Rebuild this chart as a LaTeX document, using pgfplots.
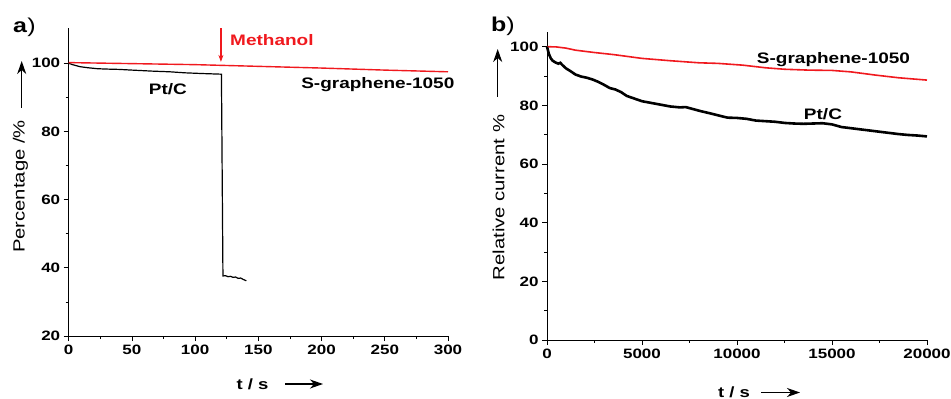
\documentclass[border=0pt]{standalone}
\usepackage{fontspec}
\setmainfont{Liberation Sans}[FakeStretch=1.25]
\usepackage{pgfplots}
\pgfplotsset{compat=1.18}
\usetikzlibrary{arrows.meta}
\definecolor{myred}{RGB}{240,25,30}
\tikzset{ann/.style={font=\bfseries\fontsize{15.2}{16}\selectfont},
  larr/.style={line width=1.2pt, -{Stealth[length=13pt,width=9pt,inset=4pt]}}}
\pgfplotsset{
  myaxis/.style={
    anchor=south west, scale only axis,
    axis lines*=left, tick align=outside,
    minor x tick num=1, minor y tick num=1,
    major tick length=5pt, minor tick length=3pt,
    every tick/.style={black, line width=0.8pt},
    axis line style={line width=0.9pt},
    ticklabel style={font=\bfseries\fontsize{13.6}{14}\selectfont},
    /pgf/number format/assume math mode=true,
    /pgf/number format/1000 sep={},
    scaled ticks=false,
    clip=false,
  },
}
\begin{document}
\begin{tikzpicture}
\useasboundingbox (0pt,0pt) rectangle (951pt,399pt);
% panel a
\begin{axis}[myaxis, at={(68.7pt,63pt)}, width=379.3pt, height=308pt,
  xmin=0, xmax=300, ymin=20, ymax=110.35,
  xtick={0,50,...,300}, ytick={20,40,...,100}]
\addplot[black, line width=1.2pt] coordinates {
 (0,100) (3,99.6) (9,99.0) (15,98.7) (23,98.4) (30,98.3) (40,98.2) (50,98.0)
 (66,97.7) (80,97.5) (92,97.2) (105,97.0) (120.8,96.8) (122,37.6) (124,37.7)
 (126,37.4) (128,37.5) (130,37.2) (132,37.3) (134,36.9) (136,37.0) (138,36.6) (140.5,36.2)};
\addplot[myred, line width=1.4pt] coordinates {
 (0,100.2) (25,100.05) (50,99.9) (75,99.75) (100,99.6) (125,99.35) (150,99.1) (175,98.85)
 (200,98.6) (225,98.3) (250,98.0) (275,97.75) (300,97.5)};
\node[ann, text=myred] at (axis cs:160.7,106.8) {Methanol};
\node[ann] at (axis cs:78.5,92.3) {Pt/C};
\node[ann] at (axis cs:244.5,93.8) {S-graphene-1050};
\draw[myred, line width=1.2pt, -{Stealth[length=7pt,width=5pt]}] (axis cs:120.4,110.3) -- (axis cs:120.4,100.4);
\end{axis}
% panel b
\begin{axis}[myaxis, at={(547pt,59pt)}, width=380pt, height=308pt,
  xmin=0, xmax=20000, ymin=0, ymax=105,
  xtick={0,5000,...,20000}, ytick={0,20,...,100}]
\addplot[myred, line width=1.6pt] coordinates {
 (0,100) (500,99.9) (1000,99.5) (1500,98.8) (2500,98.0) (3500,97.3) (5000,96.0)
 (6500,95.2) (8000,94.5) (9000,94.3) (10300,93.7) (11500,92.8) (12500,92.3)
 (13800,92.0) (15000,91.9) (16000,91.4) (17300,90.3) (18500,89.4) (20000,88.6)};
\addplot[black, line width=2.6pt] coordinates {
 (0,100) (100,97.5) (200,96) (300,95.2) (450,94.6) (600,94.2) (700,94.5) (800,93.8)
 (1000,92.6) (1200,91.8) (1500,90.5) (1800,89.8) (2100,89.4) (2400,88.8) (2700,88.0)
 (3000,87.0) (3300,85.9) (3600,85.4) (3900,84.5) (4200,83.2) (4600,82.3) (5000,81.4)
 (5500,80.8) (6000,80.2) (6500,79.6) (7000,79.3) (7300,79.4) (7700,78.7) (8100,78.0)
 (8500,77.4) (9000,76.6) (9500,75.8) (10000,75.7) (10500,75.4) (11000,74.8)
 (11500,74.6) (12000,74.4) (12500,74.0) (13000,73.8) (13500,73.7) (14000,73.8)
 (14500,73.9) (15000,73.5) (15500,72.6) (16000,72.2) (16500,71.8) (17000,71.4)
 (17500,71.0) (18000,70.6) (18500,70.2) (19000,69.9) (19500,69.7) (20000,69.4)};
\node[ann] at (axis cs:15079,95.6) {S-graphene-1050};
\node[ann] at (axis cs:14526,76.9) {Pt/C};
\end{axis}
% axis labels
\node[rotate=90, font=\fontsize{16.2}{17}\selectfont] at (20.5pt,212.5pt) {Percentage /\%};
\draw[larr] (21.7pt,291pt) -- (21.7pt,338pt);
\node[rotate=90, font=\fontsize{16.2}{17}\selectfont] at (498.5pt,201.5pt) {Relative current \%};
\draw[larr] (497.7pt,302pt) -- (497.7pt,350pt);
\node[anchor=base, inner sep=0pt, font=\bfseries\fontsize{14.8}{16}\selectfont] at (252.5pt,9pt) {t / s};
\draw[larr] (285pt,15pt) -- (323pt,15pt);
\node[anchor=base, inner sep=0pt, font=\bfseries\fontsize{14.8}{16}\selectfont] at (734pt,1.5pt) {t / s};
\draw[larr] (761pt,6.5pt) -- (800pt,6.5pt);
% panel labels
\node[anchor=base west, inner sep=0pt, font=\fontsize{20}{22}\selectfont] at (13pt,366pt) {\textbf{a})};
\node[anchor=base west, inner sep=0pt, font=\fontsize{20}{22}\selectfont] at (491pt,367pt) {\textbf{b})};
\end{tikzpicture}
\end{document}
